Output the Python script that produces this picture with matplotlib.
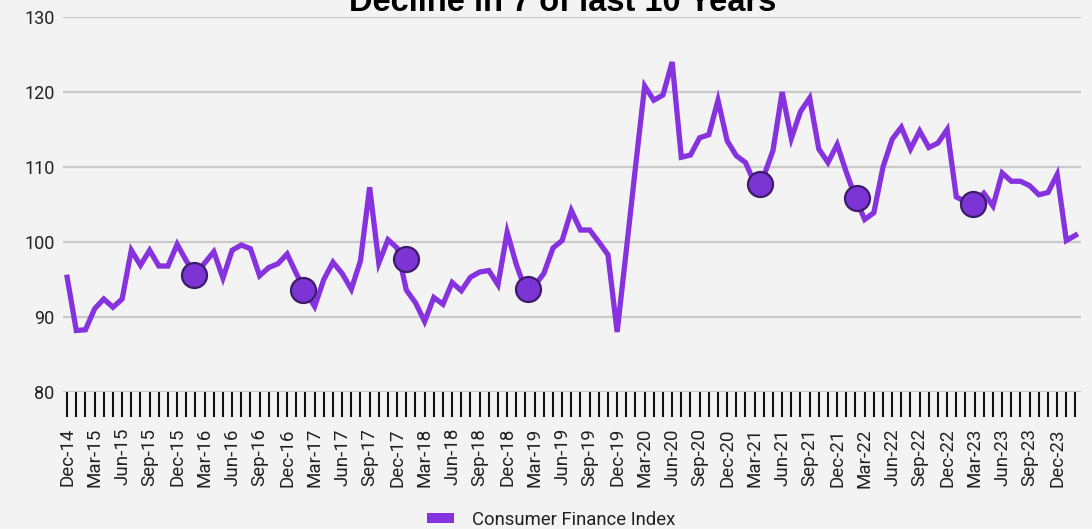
import matplotlib
matplotlib.use('Agg')
import matplotlib.pyplot as plt
from matplotlib.patches import Patch

# monthly index, Dec-14 .. Feb-24
index_values = [95.3, 88.2, 88.3, 91.1, 92.4, 91.3, 92.4, 98.9, 96.9, 98.9,
                96.8, 96.8, 99.7, 97.5, 95.6, 97.2, 98.7, 95.2, 98.9, 99.6,
                99.1, 95.5, 96.6, 97.1, 98.4, 95.8, 93.4, 91.4, 95.0, 97.3,
                95.8, 93.7, 97.5, 107.3, 97.2, 100.3, 99.2, 93.6, 91.9, 89.4,
                92.6, 91.7, 94.6, 93.5, 95.3, 96.0, 96.2, 94.3, 101.3, 97.0,
                93.6, 94.2, 95.8, 99.2, 100.2, 104.2, 101.6, 101.6, 100.0, 98.3,
                88.0, 98.9, 110.0, 120.8, 118.9, 119.6, 124.0, 111.3, 111.6, 113.9,
                114.3, 118.9, 113.5, 111.5, 110.6, 107.8, 108.8, 112.2, 120.0, 113.8,
                117.4, 119.2, 112.4, 110.6, 113.0, 109.3, 105.9, 103.0, 103.9, 110.0,
                113.7, 115.3, 112.4, 114.8, 112.6, 113.2, 115.0, 106.0, 105.4, 105.2,
                106.5, 104.8, 109.2, 108.1, 108.1, 107.5, 106.3, 106.6, 109.0, 100.2,
                100.9]

quarter_labels = ['Dec-14', 'Mar-15', 'Jun-15', 'Sep-15', 'Dec-15', 'Mar-16', 'Jun-16',
                  'Sep-16', 'Dec-16', 'Mar-17', 'Jun-17', 'Sep-17', 'Dec-17', 'Mar-18',
                  'Jun-18', 'Sep-18', 'Dec-18', 'Mar-19', 'Jun-19', 'Sep-19', 'Dec-19',
                  'Mar-20', 'Jun-20', 'Sep-20', 'Dec-20', 'Mar-21', 'Jun-21', 'Sep-21',
                  'Dec-21', 'Mar-22', 'Jun-22', 'Sep-22', 'Dec-22', 'Mar-23', 'Jun-23',
                  'Sep-23', 'Dec-23']

# highlighted points (month index, value)
dot_months = [13.8, 25.7, 37.0, 50.3, 75.6, 86.2, 98.8]
dot_values = [95.6, 93.6, 97.7, 93.7, 107.7, 105.9, 105.1]

y_ticks = [80, 90, 100, 110, 120, 130]

bg = '#f3f3f3'
purple = '#8633df'

plt.rcParams['font.family'] = ['Roboto', 'DejaVu Sans']

fig = plt.figure(figsize=(10.92, 5.29), dpi=100, facecolor=bg)
ax = fig.add_axes([63/1092, 1 - 392/529, (1081 - 63)/1092, (392 - 17)/529])
ax.set_facecolor(bg)

n = len(index_values)
months = list(range(n))
ax.plot(months, index_values, color=purple, lw=3.8, solid_joinstyle='miter', zorder=3)
ax.plot(dot_months, dot_values, ls='none', marker='o', ms=18, mfc='#7d34d4',
        mec='#3a1c68', mew=1.6, zorder=4)

ax.set_ylim(80, 130)
ax.set_yticks(y_ticks)
ax.set_xlim(-0.45, n - 0.4)
ax.grid(axis='y', color='#c9c9c9', lw=1.6)
ax.set_axisbelow(True)
for s in ax.spines.values():
    s.set_visible(False)

labels = [''] * n
for k, lab in enumerate(quarter_labels):
    labels[3 * k] = lab
ax.set_xticks(months)
ax.set_xticklabels(labels, rotation=90, fontsize=13.5, color='#222222')
ax.tick_params(axis='x', length=18, width=1.5, color='#111111', pad=8)
ax.tick_params(axis='y', length=0, pad=6, labelsize=13, labelcolor='#222222')

# title sits partly above the top edge, as in the source image
fig.text(0.515, 1 - 11/529, 'Decline in 7 of last 10 Years', ha='center', va='baseline',
         fontsize=23.5, fontweight='bold', family=['Liberation Sans', 'DejaVu Sans'])

handle = Patch(facecolor=purple, edgecolor='none')
fig.legend([handle], ['Consumer Finance Index'], loc='center',
           bbox_to_anchor=(551/1092, 1 - 520/529), frameon=False, fontsize=13.3,
           handlelength=1.45, handleheight=0.45, handletextpad=1.0, labelcolor='#222222')

fig.savefig('out.png', dpi=100, facecolor=bg)
